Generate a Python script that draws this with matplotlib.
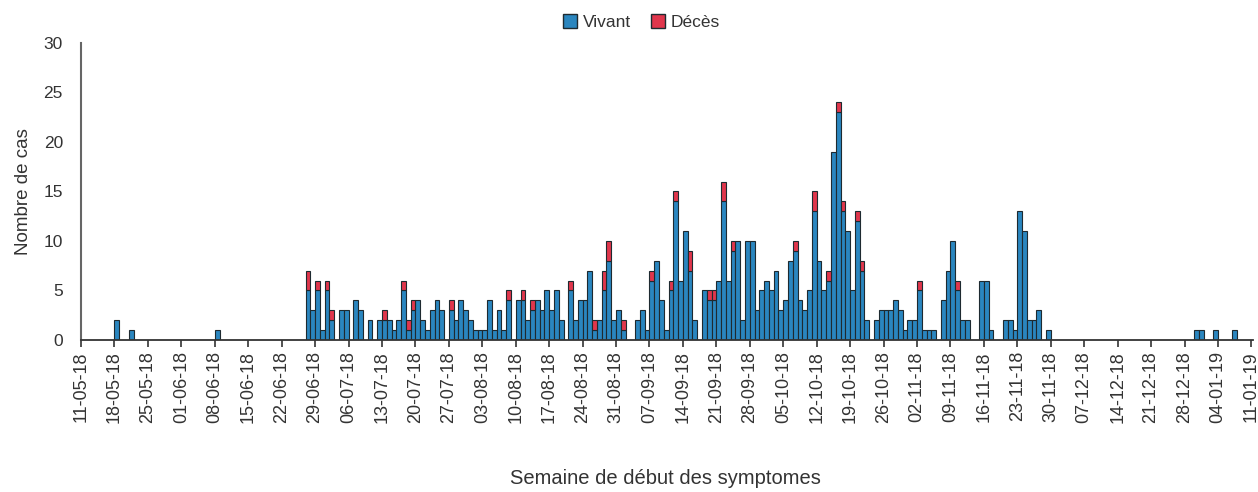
import numpy as np
import pandas as pd
import matplotlib
matplotlib.use("Agg")
import matplotlib.pyplot as plt
import matplotlib.dates as mdates
from matplotlib.patches import Patch

plt.rcParams['font.family'] = ['Liberation Sans', 'DejaVu Sans']

# Sporadic early cases
early_dates = ['2018-05-18', '2018-05-21', '2018-06-08']
early_vivant = [2, 1, 1]
early_deces = [0, 0, 0]

# Daily counts from 27-06-18 to 29-11-18
main_start = '2018-06-27'
main_vivant = [
    5, 3, 5, 1, 5, 2, 0, 3, 3, 0, 4, 3, 0, 2, 0, 2, 2, 2, 1, 2,
    5, 1, 3, 4, 2, 1, 3, 4, 3, 0, 3, 2, 4, 3, 2, 1, 1, 1, 4, 1,
    3, 1, 4, 0, 4, 4, 2, 3, 4, 3, 5, 3, 5, 2, 0, 5, 2, 4, 4, 7,
    1, 2, 5, 8, 2, 3, 1, 0, 0, 2, 3, 1, 6, 8, 4, 1, 5, 14, 6, 11,
    7, 2, 0, 5, 4, 4, 6, 14, 6, 9, 10, 2, 10, 10, 3, 5, 6, 5, 7, 3,
    4, 8, 9, 4, 3, 5, 13, 8, 5, 6, 19, 23, 13, 11, 5, 12, 7, 2, 0, 2,
    3, 3, 3, 4, 3, 1, 2, 2, 5, 1, 1, 1, 0, 4, 7, 10, 5, 2, 2, 0,
    0, 6, 6, 1, 0, 0, 2, 2, 1, 13, 11, 2, 2, 3, 0, 1,
]
main_deces = [
    2, 0, 1, 0, 1, 1, 0, 0, 0, 0, 0, 0, 0, 0, 0, 0, 1, 0, 0, 0,
    1, 1, 1, 0, 0, 0, 0, 0, 0, 0, 1, 0, 0, 0, 0, 0, 0, 0, 0, 0,
    0, 0, 1, 0, 0, 1, 0, 1, 0, 0, 0, 0, 0, 0, 0, 1, 0, 0, 0, 0,
    1, 0, 2, 2, 0, 0, 1, 0, 0, 0, 0, 0, 1, 0, 0, 0, 1, 1, 0, 0,
    2, 0, 0, 0, 1, 1, 0, 2, 0, 1, 0, 0, 0, 0, 0, 0, 0, 0, 0, 0,
    0, 0, 1, 0, 0, 0, 2, 0, 0, 1, 0, 1, 1, 0, 0, 1, 1, 0, 0, 0,
    0, 0, 0, 0, 0, 0, 0, 0, 1, 0, 0, 0, 0, 0, 0, 0, 1, 0, 0, 0,
    0, 0, 0, 0, 0, 0, 0, 0, 0, 0, 0, 0, 0, 0, 0, 0,
]

# Late cases
late_dates = ['2018-12-30', '2018-12-31', '2019-01-03', '2019-01-07']
late_vivant = [1, 1, 1, 1]
late_deces = [0, 0, 0, 0]

main_dates = pd.date_range(main_start, periods=len(main_vivant), freq='D')
dates = pd.to_datetime(early_dates).append(main_dates).append(pd.to_datetime(late_dates))
vivant = np.array(early_vivant + main_vivant + late_vivant)
deces = np.array(early_deces + main_deces + late_deces)

blue = '#2a86bf'
red = '#e0364c'
edge = '#1e2a30'

fig = plt.figure(figsize=(12.58, 4.92), dpi=100)
ax = fig.add_axes([0.0644, 0.309, 0.9315, 0.6037])

x = mdates.date2num(dates)
keep = vivant > 0
ax.bar(x[keep], vivant[keep], width=1, align='edge', color=blue,
       edgecolor=edge, linewidth=0.8)
keep_d = deces > 0
ax.bar(x[keep_d], deces[keep_d], bottom=vivant[keep_d], width=1, align='edge',
       color=red, edgecolor=edge, linewidth=0.8)

x0 = mdates.date2num(pd.Timestamp('2018-05-11'))
x1 = mdates.date2num(pd.Timestamp('2019-01-11')) + 0.3
ax.set_xlim(x0, x1)
ax.set_ylim(0, 30)

ticks = pd.date_range('2018-05-11', '2019-01-11', freq='7D')
ax.set_xticks(mdates.date2num(ticks))
ax.set_xticklabels([t.strftime('%d-%m-%y') for t in ticks], rotation=90,
                   fontsize=13, color='#333333')
ax.set_yticks(range(0, 31, 5))
ax.tick_params(axis='y', length=0, pad=13, labelsize=12.5, labelcolor='#333333')
ax.tick_params(axis='x', length=5, width=1.2, pad=3, color='#333333')

for s in ['top', 'right']:
    ax.spines[s].set_visible(False)
ax.spines['left'].set_color('#666666')
ax.spines['left'].set_linewidth(1.5)
ax.spines['bottom'].set_color('#333333')
ax.spines['bottom'].set_linewidth(1.3)

ax.set_ylabel('Nombre de cas', fontsize=13.5, color='#333333', labelpad=8)
fig.text(0.529, 0.028, 'Semaine de début des symptomes', ha='center',
         va='center', fontsize=14.5, color='#333333')

handles = [Patch(facecolor=blue, edgecolor=edge, label='Vivant'),
           Patch(facecolor=red, edgecolor=edge, label='Décès')]
fig.legend(handles=handles, loc='center', bbox_to_anchor=(0.51, 0.955), ncol=2,
           frameon=False, fontsize=12.5, handlelength=0.8, handleheight=0.8,
           handletextpad=0.3, columnspacing=1.2, labelcolor='#333333')

fig.savefig('out.png', dpi=100)
